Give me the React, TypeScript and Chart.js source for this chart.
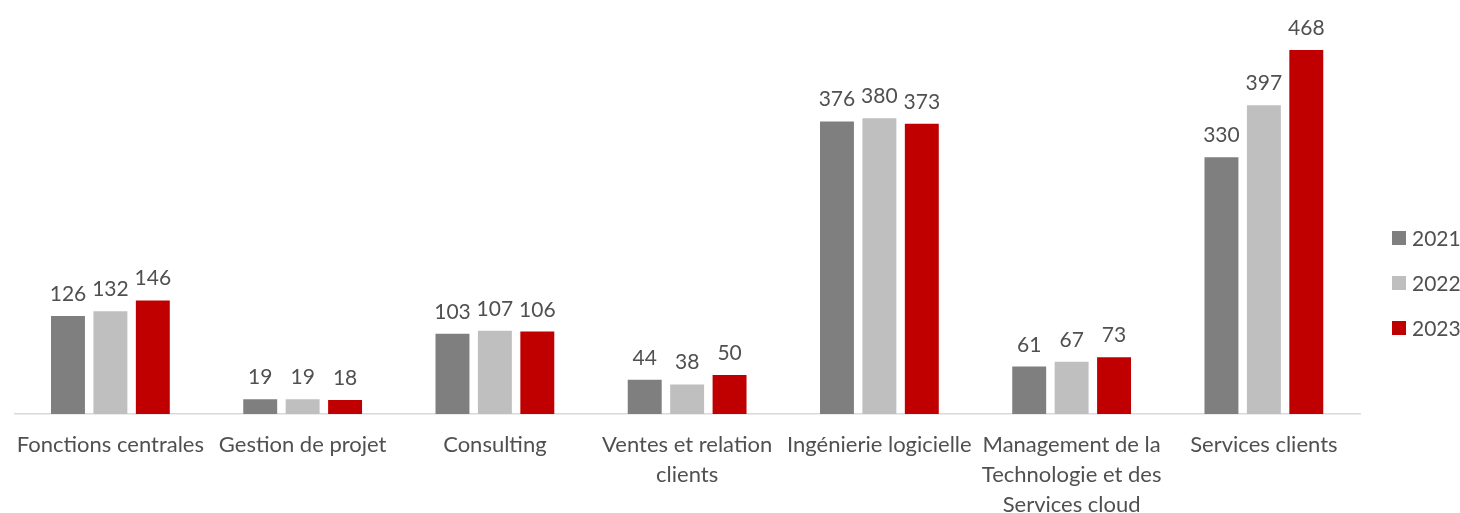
import React, { useEffect, useRef } from "react";
import { Chart, registerables } from "chart.js";

Chart.register(...registerables);

const categories: (string | string[])[] = [
  "Fonctions centrales",
  "Gestion de projet",
  "Consulting",
  ["Ventes et relation", "clients"],
  "Ingénierie logicielle",
  ["Management de la", "Technologie et des", "Services cloud"],
  "Services clients",
];
const seriesLabels = ["2021", "2022", "2023"];
const values2021 = [126, 19, 103, 44, 376, 61, 330];
const values2022 = [132, 19, 107, 38, 380, 67, 397];
const values2023 = [146, 18, 106, 50, 373, 73, 468];
const seriesColors = ["#7F7F7F", "#BFBFBF", "#C00000"];

const FONT = "Lato, 'Open Sans', sans-serif";
const TEXT_COLOR = "#505050";

const dataLabelsPlugin = {
  id: "dataLabels",
  afterDatasetsDraw(chart: any) {
    const ctx = chart.ctx;
    ctx.save();
    ctx.font = `21px ${FONT}`;
    ctx.fillStyle = TEXT_COLOR;
    ctx.textAlign = "center";
    ctx.textBaseline = "alphabetic";
    chart.data.datasets.forEach((ds: any, i: number) => {
      const meta = chart.getDatasetMeta(i);
      meta.data.forEach((el: any, j: number) => {
        ctx.fillText(String(ds.data[j]), el.x, el.y - 15);
      });
    });
    ctx.restore();
  },
};

const sideLegendPlugin = {
  id: "sideLegend",
  afterDraw(chart: any) {
    const ctx = chart.ctx;
    ctx.save();
    ctx.font = `21px ${FONT}`;
    ctx.textAlign = "left";
    ctx.textBaseline = "middle";
    const x0 = chart.chartArea.right + 32;
    const yStart = 238;
    const step = 45;
    chart.data.datasets.forEach((ds: any, i: number) => {
      const y = yStart + i * step;
      ctx.fillStyle = ds.backgroundColor;
      ctx.fillRect(x0, y - 7, 14, 14);
      ctx.fillStyle = TEXT_COLOR;
      ctx.fillText(ds.label, x0 + 20, y + 1);
    });
    ctx.restore();
  },
};

export default function App() {
  const canvasRef = useRef<HTMLCanvasElement | null>(null);

  useEffect(() => {
    document.body.style.margin = "0";
    const canvas = canvasRef.current;
    if (!canvas) return;
    const valueSets = [values2021, values2022, values2023];
    const chart = new Chart(canvas, {
      type: "bar",
      data: {
        labels: categories,
        datasets: seriesLabels.map((label, i) => ({
          label,
          data: valueSets[i],
          backgroundColor: seriesColors[i],
          borderWidth: 0,
          categoryPercentage: 0.662,
          barPercentage: 0.8,
        })),
      },
      options: {
        responsive: false,
        animation: false,
        devicePixelRatio: 1,
        layout: { padding: { top: 25, left: 11, right: 100, bottom: 0 } },
        plugins: {
          legend: { display: false },
          tooltip: { enabled: false },
          title: { display: false },
        },
        scales: {
          x: {
            grid: { display: false, drawTicks: false },
            border: { display: true, color: "#D9D9D9", width: 1.5 },
            ticks: {
              color: TEXT_COLOR,
              font: { family: FONT, size: 22, lineHeight: 1.36 },
              padding: 16,
              maxRotation: 0,
              autoSkip: false,
            },
            afterFit: (scale: any) => {
              scale.height = 99;
            },
          },
          y: {
            display: false,
            min: 0,
            max: 500,
          },
        },
      },
      plugins: [dataLabelsPlugin, sideLegendPlugin],
    });
    return () => chart.destroy();
  }, []);

  return (
    <div style={{ position: "fixed", left: 0, top: 0, width: 1460, height: 513, background: "#fff" }}>
      <canvas ref={canvasRef} width={1460} height={513} style={{ width: 1460, height: 513, display: "block" }} />
    </div>
  );
}
